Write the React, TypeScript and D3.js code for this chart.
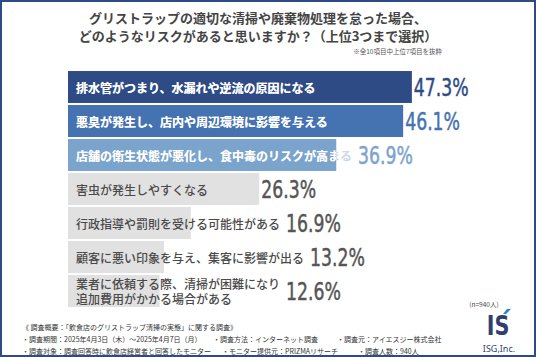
import React, { useEffect, useRef } from "react";
import * as d3 from "d3";

const categories = [
  "排水管がつまり、水漏れや逆流の原因になる",
  "悪臭が発生し、店内や周辺環境に影響を与える",
  "店舗の衛生状態が悪化し、食中毒のリスクが高まる",
  "害虫が発生しやすくなる",
  "行政指導や罰則を受ける可能性がある",
  "顧客に悪い印象を与え、集客に影響が出る",
  "業者に依頼する際、清掃が困難になり\n追加費用がかかる場合がある",
];
const values = [47.3, 46.1, 36.9, 26.3, 16.9, 13.2, 12.6];
const barColors = ["#2f4b86", "#4572b0", "#7ba4cd", "#e1e1e1", "#e1e1e1", "#e1e1e1", "#e1e1e1"];
const valueColors = ["#2f4b86", "#4572b0", "#7ba4cd", "#555555", "#555555", "#555555", "#555555"];
const labelColors = ["#ffffff", "#ffffff", "#ffffff", "#4a4a4a", "#4a4a4a", "#4a4a4a", "#4a4a4a"];

const titleLines = [
  "グリストラップの適切な清掃や廃棄物処理を怠った場合、",
  "どのようなリスクがあると思いますか？（上位3つまで選択）",
];
const noteText = "※全10項目中上位7項目を抜粋";
const sampleText = "(n=940人)";
const footerLines = [
  [{ x: 22, t: "《 調査概要：「飲食店のグリストラップ清掃の実態」に関する調査》" }],
  [
    { x: 22, t: "・調査期間：2025年4月3日（木）～2025年4月7日（月）" },
    { x: 213, t: "・調査方法：インターネット調査" },
    { x: 337, t: "・調査元：アイエスジー株式会社" },
  ],
  [
    { x: 22, t: "・調査対象：調査回答時に飲食店経営者と回答したモニター" },
    { x: 222, t: "・モニター提供元：PRIZMAリサーチ" },
    { x: 358, t: "・調査人数：940人" },
  ],
];

const W = 536;
const H = 357;
const JP = "'Noto Sans CJK JP', 'Noto Sans', sans-serif";
const NUM = "'DejaVu Sans', sans-serif";

export default function App() {
  const ref = useRef<SVGSVGElement | null>(null);

  useEffect(() => {
    const svg = d3.select(ref.current);
    svg.selectAll("*").remove();

    svg.append("rect").attr("width", W).attr("height", H).attr("fill", "#ffffff");
    svg
      .append("rect")
      .attr("x", 1)
      .attr("y", 1)
      .attr("width", W - 2)
      .attr("height", H - 2)
      .attr("fill", "none")
      .attr("stroke", "#2f4b86")
      .attr("stroke-width", 2);

    // Title
    svg
      .selectAll("text.title")
      .data(titleLines)
      .join("text")
      .attr("class", "title")
      .attr("x", 258)
      .attr("y", (_d, i) => 17 + i * 18.5)
      .attr("text-anchor", "middle")
      .attr("dominant-baseline", "central")
      .attr("font-family", JP)
      .attr("font-weight", 700)
      .attr("font-size", 13)
      .attr("fill", "#444444")
      .text((d) => d);

    svg
      .append("text")
      .attr("x", 442)
      .attr("y", 51)
      .attr("text-anchor", "end")
      .attr("dominant-baseline", "central")
      .attr("font-family", JP)
      .attr("font-size", 6.5)
      .attr("fill", "#555")
      .text(noteText);

    const x = d3.scaleLinear().domain([0, 50]).range([68, 68 + 363.5]);
    const y = d3
      .scaleBand<string>()
      .domain(categories)
      .range([70, 308])
      .paddingInner(0.06)
      .paddingOuter(0.03);

    const defs = svg.append("defs");

    const g = svg.append("g");
    categories.forEach((cat, i) => {
      const y0 = y(cat)!;
      const bh = y.bandwidth();
      const x1 = x(values[i]);
      const x0 = x(0);
      g.append("rect")
        .attr("x", x0)
        .attr("y", y0)
        .attr("width", x1 - x0)
        .attr("height", bh)
        .attr("fill", barColors[i]);

      const lines = cat.split("\n");
      const cy = y0 + bh / 2;
      const lh = 15.5;
      const colored = i < 3;

      const drawLabel = (fill: string, clip?: string) => {
        const t = g
          .append("text")
          .attr("font-family", JP)
          .attr("font-weight", colored ? 700 : 500)
          .attr("font-size", 12)
          .attr("fill", fill);
        if (clip) t.attr("clip-path", `url(#${clip})`);
        lines.forEach((ln, k) => {
          t.append("tspan")
            .attr("x", 76)
            .attr("y", cy + (k - (lines.length - 1) / 2) * lh)
            .attr("dominant-baseline", "central")
            .text(ln);
        });
        return t;
      };

      let labelNode;
      if (colored) {
        const cid = `clip${i}`;
        defs
          .append("clipPath")
          .attr("id", cid)
          .append("rect")
          .attr("x", x0)
          .attr("y", y0)
          .attr("width", x1 - x0)
          .attr("height", bh);
        labelNode = drawLabel("#cfd8e4");
        drawLabel(labelColors[i], cid);
      } else {
        labelNode = drawLabel(labelColors[i]);
      }
      const lw = (labelNode.node() as SVGTextElement).getBBox();
      const labelEnd = lw.x + lw.width;
      const vx = Math.max(x1 + 2, labelEnd + 6);

      g.append("text")
        .attr("transform", `translate(${vx},${cy + 1}) scale(0.72,1)`)
        .attr("dominant-baseline", "central")
        .attr("font-family", NUM)
        .attr("font-size", 24)
        .attr("fill", valueColors[i])
        .attr("stroke", valueColors[i])
        .attr("stroke-width", 0.5)
        .text(`${values[i].toFixed(1)}%`);
    });

    svg
      .append("text")
      .attr("x", 484)
      .attr("y", 304)
      .attr("text-anchor", "middle")
      .attr("dominant-baseline", "central")
      .attr("font-family", JP)
      .attr("font-size", 6.5)
      .attr("fill", "#444")
      .text(sampleText);

    // Footer
    footerLines.forEach((row, r) => {
      row.forEach((item) => {
        svg
          .append("text")
          .attr("x", item.x)
          .attr("y", 327 + r * 12)
          .attr("dominant-baseline", "central")
          .attr("font-family", JP)
          .attr("font-size", 7)
          .attr("fill", "#333")
          .text(item.t);
      });
    });

    // Logo
    svg
      .append("text")
      .attr("transform", "translate(498,335) scale(0.8,1)")
      .attr("text-anchor", "middle")
      .attr("font-family", NUM)
      .attr("font-weight", 700)
      .attr("font-size", 26)
      .attr("fill", "#2f3f6e")
      .text("IS");
    svg
      .append("polygon")
      .attr("points", "503,314 507,309 511,309 506,314")
      .attr("fill", "#2a82d8");
    svg
      .append("text")
      .attr("x", 499)
      .attr("y", 348)
      .attr("text-anchor", "middle")
      .attr("dominant-baseline", "central")
      .attr("font-family", "'Noto Sans', sans-serif")
      .attr("font-size", 9)
      .attr("fill", "#2f3f6e")
      .text("ISG,Inc.");
  }, []);

  return (
    <svg
      ref={ref}
      width={W}
      height={H}
      style={{ position: "absolute", left: 0, top: 0, display: "block" }}
    />
  );
}
